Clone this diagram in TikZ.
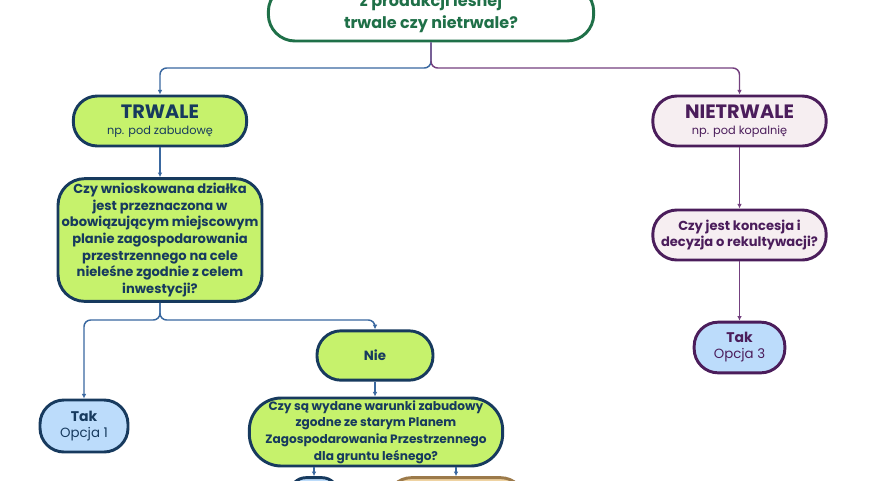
\documentclass[tikz,border=0pt]{standalone}
\usepackage{fontspec}
\setmainfont{Poppins}
\usetikzlibrary{arrows.meta}

\definecolor{granat}{HTML}{173A5E}
\definecolor{limonka}{HTML}{C6F26C}
\definecolor{blekit}{HTML}{BCDCFB}
\definecolor{fiolet}{HTML}{4B1D5B}
\definecolor{roz}{HTML}{F6EEF1}
\definecolor{zielen}{HTML}{1F7048}
\definecolor{braz}{HTML}{9C7A4A}
\definecolor{piasek}{HTML}{EFD3A2}
\definecolor{liniaN}{HTML}{3A68A0}
\definecolor{liniaF}{HTML}{74407F}

\begin{document}
\begin{tikzpicture}[x=0.75pt,y=-0.75pt,
  box/.style={draw, line width=2.2pt, rounded corners=18pt, align=center, inner sep=2pt},
  zielony/.style={box, fill=limonka, draw=granat, text=granat},
  niebieski/.style={box, fill=blekit, text=granat},
  rozowy/.style={box, fill=roz, draw=fiolet, text=fiolet},
  pytanie/.style={font=\fontsize{9.8}{12.4}\selectfont\bfseries},
  niebieska/.style={draw=liniaN, line width=1.1pt, -{Latex[length=3.5pt,width=3.5pt]}},
  fioletowa/.style={draw=liniaF, line width=1.1pt, -{Latex[length=3.5pt,width=3.5pt]}}]
\useasboundingbox (0,0) rectangle (880,480);
\fill[white] (0,0) rectangle (880,480);
\clip (0,0) rectangle (880,480);

% pytanie glowne
\node[box, draw=zielen, fill=white, text=zielen, minimum width=244pt, minimum height=42pt,
  rounded corners=20pt, font=\fontsize{12}{16.5}\selectfont\bfseries] (start) at (431,13)
  {z produkcji leśnej\\trwale czy nietrwale?};

% galaz trwale
\node[zielony, minimum width=130pt, minimum height=37.5pt] (trwale) at (160,121)
  {{\fontsize{14.5}{16}\selectfont\bfseries TRWALE}\\{\fontsize{8.5}{10}\selectfont np. pod zabudowę}};
\node[zielony, pytanie, minimum width=153pt, minimum height=92pt, rounded corners=20pt] (pytanie1) at (160,240)
  {Czy wnioskowana działka\\jest przeznaczona w\\obowiązującym miejscowym\\planie zagospodarowania\\przestrzennego na cele\\nieleśne zgodnie z celem\\inwestycji?};
\node[niebieski, draw=granat, minimum width=66pt, minimum height=39pt] (tak1) at (84,426)
  {{\fontsize{10.5}{13}\selectfont\bfseries Tak}\\{\fontsize{10}{12}\selectfont Opcja 1}};
\node[zielony, minimum width=87pt, minimum height=37pt, font=\fontsize{10}{12}\selectfont\bfseries] (nie) at (375,355.5) {Nie};
\node[zielony, pytanie, font=\fontsize{9.1}{12.4}\selectfont\bfseries, minimum width=190pt, minimum height=51pt, rounded corners=24pt] (pytanie2) at (376,432)
  {Czy są wydane warunki zabudowy\\zgodne ze starym Planem\\Zagospodarowania Przestrzennego\\dla gruntu leśnego?};
\node[niebieski, draw=granat, minimum width=36pt, minimum height=38pt, rounded corners=12pt] (opcja2) at (314,503) {};
\node[box, fill=piasek, draw=braz, minimum width=103pt, minimum height=38pt] (inne) at (456,503) {};

% galaz nietrwale
\node[rozowy, minimum width=130pt, minimum height=37.5pt] (nietrwale) at (739.5,121)
  {{\fontsize{14.5}{16}\selectfont\bfseries NIETRWALE}\\{\fontsize{8.5}{10}\selectfont np. pod kopalnię}};
\node[rozowy, pytanie, minimum width=130pt, minimum height=37.5pt] (pytanie3) at (739.5,235)
  {Czy jest koncesja i\\decyzja o rekultywacji?};
\node[niebieski, draw=fiolet, text=fiolet, minimum width=68pt, minimum height=38pt] (tak3) at (739.5,347.5)
  {{\fontsize{10.5}{13}\selectfont\bfseries Tak}\\{\fontsize{10}{12}\selectfont Opcja 3}};

% polaczenia
\coordinate (rozwidlenie) at (431,68);
\coordinate (rozwidlenie2) at (160,320);
\draw[niebieska, rounded corners=5pt] (start.south) -- (rozwidlenie) -| (trwale.north);
\draw[fioletowa, rounded corners=5pt] (start.south) -- (rozwidlenie) -| (nietrwale.north);
\draw[niebieska] (trwale) -- (pytanie1);
\draw[niebieska, rounded corners=5pt] (pytanie1.south) -- (rozwidlenie2) -| (tak1.north);
\draw[niebieska, rounded corners=5pt] (pytanie1.south) -- (rozwidlenie2) -| (nie.north);
\draw[niebieska] (nie) -- (pytanie2.north -| nie);
\draw[niebieska] (opcja2.north |- pytanie2.south) -- (opcja2.north);
\draw[niebieska] (inne.north |- pytanie2.south) -- (inne.north);
\draw[fioletowa] (nietrwale) -- (pytanie3);
\draw[fioletowa] (pytanie3) -- (tak3);
\end{tikzpicture}
\end{document}
